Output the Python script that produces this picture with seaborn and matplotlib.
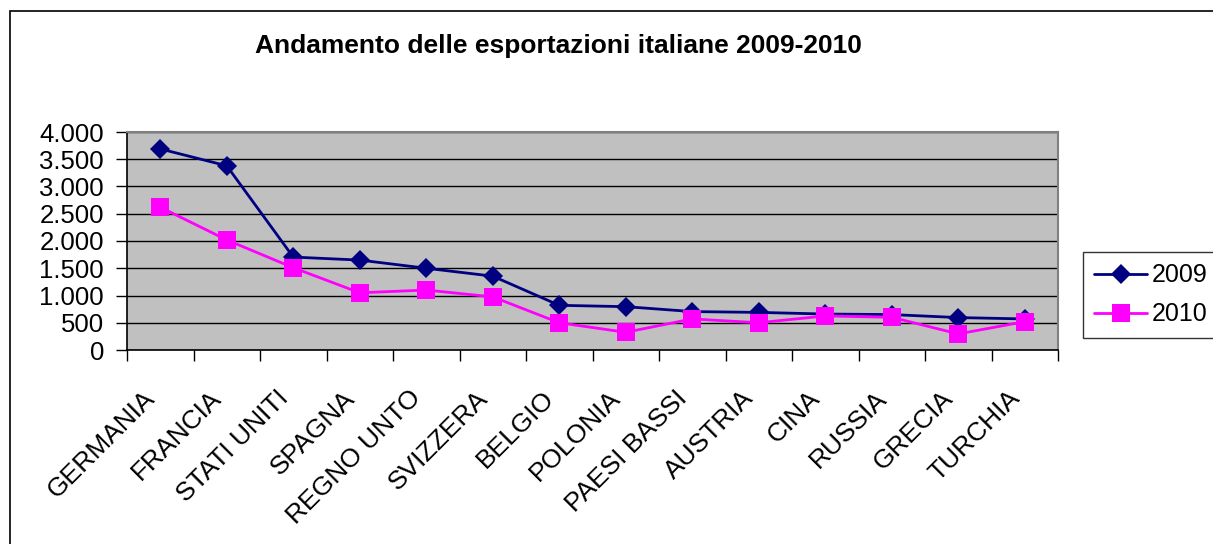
import matplotlib
matplotlib.use("Agg")
import numpy as np
import pandas as pd
import matplotlib.pyplot as plt
import seaborn as sns
from matplotlib.ticker import FixedLocator, FuncFormatter, MultipleLocator
from matplotlib.patches import Rectangle
from matplotlib.transforms import ScaledTranslation

# dati (milioni di euro, stima)
paesi = ["GERMANIA", "FRANCIA", "STATI UNITI", "SPAGNA", "REGNO UNTO", "SVIZZERA",
         "BELGIO", "POLONIA", "PAESI BASSI", "AUSTRIA", "CINA", "RUSSIA",
         "GRECIA", "TURCHIA"]
export_2009 = [3690, 3380, 1705, 1650, 1500, 1355, 820, 795, 705, 690, 660, 650, 595, 570]
export_2010 = [2620, 2020, 1510, 1050, 1100, 975, 500, 325, 570, 500, 625, 600, 295, 520]
anni = ["2009", "2010"]

df = pd.DataFrame({
    "pos": list(range(len(paesi))) * 2,
    "paese": paesi * 2,
    "valore": export_2009 + export_2010,
    "anno": [anni[0]] * len(paesi) + [anni[1]] * len(paesi),
})

sns.set_theme(style="white")
plt.rcParams["font.family"] = ["Liberation Sans", "DejaVu Sans"]
plt.rcParams["text.color"] = "black"
plt.rcParams["xtick.color"] = "black"
plt.rcParams["ytick.color"] = "black"

fig = plt.figure(figsize=(12.13, 5.44), dpi=100)
ax = fig.add_axes([127 / 1213, 1 - 350 / 544, (1058 - 127) / 1213, (350 - 132) / 544])
ax.set_facecolor("#C0C0C0")

sns.lineplot(data=df, x="pos", y="valore", hue="anno", style="anno",
             palette={"2009": "#000080", "2010": "#FF00FF"},
             markers={"2009": "D", "2010": "s"}, dashes=False,
             linewidth=2, markeredgewidth=0, ax=ax, legend=False)
for line, ms in zip(ax.lines, [10.5, 13]):
    line.set_markersize(ms)
    line.set_markeredgecolor(line.get_color())

ax.set_xlim(-0.5, len(paesi) - 0.5)
ax.set_ylim(0, 4000)
ax.yaxis.set_major_locator(MultipleLocator(500))
ax.yaxis.set_major_formatter(FuncFormatter(lambda v, p: f"{int(v):,}".replace(",", ".")))
ax.grid(axis="y", color="black", linewidth=1)
ax.set_axisbelow(True)

# tacche tra le categorie, etichette al centro
ax.xaxis.set_major_locator(FixedLocator(np.arange(-0.5, len(paesi), 1.0)))
ax.xaxis.set_major_formatter(FuncFormatter(lambda v, p: ""))
ax.xaxis.set_minor_locator(FixedLocator(np.arange(len(paesi))))
ax.set_xticklabels(paesi, minor=True, rotation=45, ha="right", va="center",
                   rotation_mode="anchor", fontsize=19, color="black")
ax.tick_params(axis="x", which="major", direction="out", length=8, width=1, color="black", bottom=True)
ax.tick_params(axis="x", which="minor", length=0, pad=32)
ax.tick_params(axis="y", direction="out", length=8, width=1, color="black", left=True,
               labelsize=18.5, labelcolor="black", pad=8.5)
shift = ScaledTranslation(-9 / 100, 0, fig.dpi_scale_trans)
for lbl in ax.get_xticklabels(minor=True):
    lbl.set_transform(lbl.get_transform() + shift)
ax.set_xlabel("")
ax.set_ylabel("")

for s in ["top", "right"]:
    ax.spines[s].set_color("#808080")
    ax.spines[s].set_linewidth(1.5)
for s in ["left", "bottom"]:
    ax.spines[s].set_color("black")
    ax.spines[s].set_linewidth(1.2)

fig.text(558 / 1213, 1 - 46 / 544, "Andamento delle esportazioni italiane 2009-2010",
         ha="center", va="center", fontsize=19, fontweight="bold", color="black")

handles = ax.lines[:2]
leg = fig.legend(handles, anni, loc="upper left",
                 bbox_to_anchor=(1083 / 1213, 1 - 252 / 544), fontsize=18,
                 frameon=True, fancybox=False, handlelength=2.1, handletextpad=0.2,
                 borderpad=0.45, labelspacing=0.6, borderaxespad=0)
leg.get_frame().set_edgecolor("black")
leg.get_frame().set_linewidth(1)
for t in leg.get_texts():
    t.set_color("black")

# cornice esterna del grafico
fig.patches.append(Rectangle((9.5 / 1213, -0.05), 1.0, 1.05 - 10.5 / 544,
                             transform=fig.transFigure, fill=False,
                             edgecolor="black", linewidth=1.2))

fig.savefig("out.png", dpi=100)
